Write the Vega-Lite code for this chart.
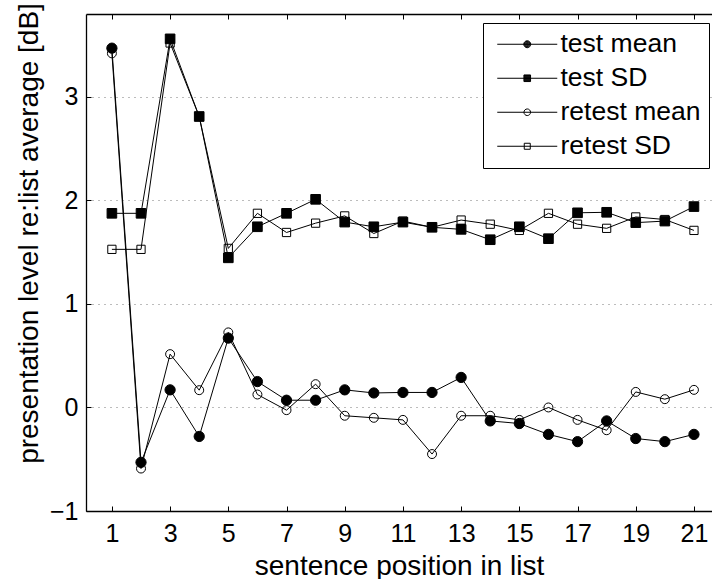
{
  "$schema": "https://vega.github.io/schema/vega-lite/v6.json",
  "autosize": "none",
  "width": 626,
  "height": 497,
  "padding": {"left": 86, "top": 14, "right": 0, "bottom": 68},
  "background": "white",
  "config": {
    "font": "Liberation Sans",
    "view": {"stroke": null},
    "axis": {
      "domainColor": "black",
      "domainWidth": 1.3,
      "tickColor": "black",
      "tickWidth": 1,
      "tickSize": -5,
      "labelColor": "black",
      "labelFont": "Liberation Sans",
      "labelFontSize": 25,
      "titleFont": "Liberation Sans",
      "titleFontSize": 28,
      "titleFontWeight": "normal",
      "titleColor": "black"
    },
    "legend": {
      "orient": "none",
      "legendX": 397,
      "legendY": 9,
      "padding": 8,
      "strokeColor": "black",
      "fillColor": "white",
      "cornerRadius": 0,
      "labelFont": "Liberation Sans",
      "labelFontSize": 26.5,
      "labelColor": "black",
      "labelOffset": 20,
      "symbolSize": 144,
      "symbolOffset": 23,
      "symbolOpacity": 1,
      "symbolStrokeColor": "black",
      "symbolFillColor": "transparent",
      "symbolStrokeWidth": 1,
      "rowPadding": 7
    }
  },
  "data": {
    "values": [
      {"pos": 1, "series": "test mean", "value": 3.47},
      {"pos": 2, "series": "test mean", "value": -0.53},
      {"pos": 3, "series": "test mean", "value": 0.17},
      {"pos": 4, "series": "test mean", "value": -0.28},
      {"pos": 5, "series": "test mean", "value": 0.67},
      {"pos": 6, "series": "test mean", "value": 0.25},
      {"pos": 7, "series": "test mean", "value": 0.07},
      {"pos": 8, "series": "test mean", "value": 0.07},
      {"pos": 9, "series": "test mean", "value": 0.17},
      {"pos": 10, "series": "test mean", "value": 0.14},
      {"pos": 11, "series": "test mean", "value": 0.145},
      {"pos": 12, "series": "test mean", "value": 0.145},
      {"pos": 13, "series": "test mean", "value": 0.29},
      {"pos": 14, "series": "test mean", "value": -0.13},
      {"pos": 15, "series": "test mean", "value": -0.155},
      {"pos": 16, "series": "test mean", "value": -0.26},
      {"pos": 17, "series": "test mean", "value": -0.33},
      {"pos": 18, "series": "test mean", "value": -0.13},
      {"pos": 19, "series": "test mean", "value": -0.3},
      {"pos": 20, "series": "test mean", "value": -0.33},
      {"pos": 21, "series": "test mean", "value": -0.26},
      {"pos": 1, "series": "test SD", "value": 1.875},
      {"pos": 2, "series": "test SD", "value": 1.875},
      {"pos": 3, "series": "test SD", "value": 3.56},
      {"pos": 4, "series": "test SD", "value": 2.81},
      {"pos": 5, "series": "test SD", "value": 1.445},
      {"pos": 6, "series": "test SD", "value": 1.745},
      {"pos": 7, "series": "test SD", "value": 1.875},
      {"pos": 8, "series": "test SD", "value": 2.01},
      {"pos": 9, "series": "test SD", "value": 1.79},
      {"pos": 10, "series": "test SD", "value": 1.745},
      {"pos": 11, "series": "test SD", "value": 1.79},
      {"pos": 12, "series": "test SD", "value": 1.74},
      {"pos": 13, "series": "test SD", "value": 1.72},
      {"pos": 14, "series": "test SD", "value": 1.62},
      {"pos": 15, "series": "test SD", "value": 1.745},
      {"pos": 16, "series": "test SD", "value": 1.63},
      {"pos": 17, "series": "test SD", "value": 1.88},
      {"pos": 18, "series": "test SD", "value": 1.885},
      {"pos": 19, "series": "test SD", "value": 1.785},
      {"pos": 20, "series": "test SD", "value": 1.8},
      {"pos": 21, "series": "test SD", "value": 1.94},
      {"pos": 1, "series": "retest mean", "value": 3.42},
      {"pos": 2, "series": "retest mean", "value": -0.59},
      {"pos": 3, "series": "retest mean", "value": 0.515},
      {"pos": 4, "series": "retest mean", "value": 0.167},
      {"pos": 5, "series": "retest mean", "value": 0.725},
      {"pos": 6, "series": "retest mean", "value": 0.125},
      {"pos": 7, "series": "retest mean", "value": -0.026},
      {"pos": 8, "series": "retest mean", "value": 0.225},
      {"pos": 9, "series": "retest mean", "value": -0.08},
      {"pos": 10, "series": "retest mean", "value": -0.1},
      {"pos": 11, "series": "retest mean", "value": -0.12},
      {"pos": 12, "series": "retest mean", "value": -0.45},
      {"pos": 13, "series": "retest mean", "value": -0.08},
      {"pos": 14, "series": "retest mean", "value": -0.08},
      {"pos": 15, "series": "retest mean", "value": -0.12},
      {"pos": 16, "series": "retest mean", "value": 0.0},
      {"pos": 17, "series": "retest mean", "value": -0.12},
      {"pos": 18, "series": "retest mean", "value": -0.22},
      {"pos": 19, "series": "retest mean", "value": 0.15},
      {"pos": 20, "series": "retest mean", "value": 0.08},
      {"pos": 21, "series": "retest mean", "value": 0.17},
      {"pos": 1, "series": "retest SD", "value": 1.527},
      {"pos": 2, "series": "retest SD", "value": 1.527},
      {"pos": 3, "series": "retest SD", "value": 3.52},
      {"pos": 4, "series": "retest SD", "value": 2.81},
      {"pos": 5, "series": "retest SD", "value": 1.536},
      {"pos": 6, "series": "retest SD", "value": 1.875},
      {"pos": 7, "series": "retest SD", "value": 1.69},
      {"pos": 8, "series": "retest SD", "value": 1.78},
      {"pos": 9, "series": "retest SD", "value": 1.85},
      {"pos": 10, "series": "retest SD", "value": 1.68},
      {"pos": 11, "series": "retest SD", "value": 1.8},
      {"pos": 12, "series": "retest SD", "value": 1.74},
      {"pos": 13, "series": "retest SD", "value": 1.81},
      {"pos": 14, "series": "retest SD", "value": 1.77},
      {"pos": 15, "series": "retest SD", "value": 1.71},
      {"pos": 16, "series": "retest SD", "value": 1.875},
      {"pos": 17, "series": "retest SD", "value": 1.77},
      {"pos": 18, "series": "retest SD", "value": 1.73},
      {"pos": 19, "series": "retest SD", "value": 1.84},
      {"pos": 20, "series": "retest SD", "value": 1.815},
      {"pos": 21, "series": "retest SD", "value": 1.71}
    ]
  },
  "layer": [
    {
      "mark": {"type": "line", "color": "black", "strokeWidth": 1},
      "encoding": {
        "x": {
          "field": "pos",
          "type": "quantitative",
          "scale": {"domain": [0.11, 21.62], "nice": false, "zero": false},
          "axis": {
            "orient": "bottom",
            "title": "sentence position in list",
            "values": [1, 3, 5, 7, 9, 11, 13, 15, 17, 19, 21],
            "grid": false,
            "labelPadding": 15,
            "titlePadding": 6
          }
        },
        "y": {
          "field": "value",
          "type": "quantitative",
          "scale": {"domain": [-1, 3.8], "nice": false, "zero": false},
          "axis": {
            "title": "presentation level re:list average [dB]",
            "values": [-1, 0, 1, 2, 3],
            "grid": true,
            "gridColor": "#555555",
            "gridWidth": 0.8,
            "gridDash": [1, 5],
            "labelPadding": 13,
            "titleX": -49,
            "titleY": 219,
            "titleAngle": -90,
            "titleAlign": "center",
            "titleBaseline": "alphabetic"
          }
        },
        "detail": {"field": "series", "type": "nominal"}
      }
    },
    {
      "mark": {"type": "point", "stroke": "black", "strokeWidth": 1, "opacity": 1},
      "encoding": {
        "x": {"field": "pos", "type": "quantitative", "axis": null},
        "y": {"field": "value", "type": "quantitative", "axis": null},
        "shape": {
          "field": "series",
          "type": "nominal",
          "scale": {
            "domain": ["test mean", "test SD", "retest mean", "retest SD"],
            "range": ["circle", "square", "circle", "square"]
          },
          "legend": null
        },
        "fill": {
          "field": "series",
          "type": "nominal",
          "scale": {
            "domain": ["test mean", "test SD", "retest mean", "retest SD"],
            "range": ["black", "black", "transparent", "transparent"]
          },
          "legend": null
        },
        "size": {
          "field": "series",
          "type": "nominal",
          "scale": {
            "domain": ["test mean", "test SD", "retest mean", "retest SD"],
            "range": [105, 68, 100, 64]
          },
          "legend": null
        }
      }
    },
    {
      "transform": [{"filter": "datum.pos > 100"}],
      "mark": {"type": "point", "filled": false, "color": "black", "strokeWidth": 1},
      "encoding": {
        "x": {"field": "pos", "type": "quantitative", "axis": null},
        "y": {"field": "value", "type": "quantitative", "axis": null},
        "shape": {
          "field": "series",
          "type": "nominal",
          "title": null,
          "scale": {
            "domain": ["test mean", "test SD", "retest mean", "retest SD"],
            "range": [
              "M-5,0L5,0M-0.58,0A0.58,0.58,0,1,1,0.58,0A0.58,0.58,0,1,1,-0.58,0M-0.48,0A0.48,0.48,0,1,1,0.48,0A0.48,0.48,0,1,1,-0.48,0M-0.38,0A0.38,0.38,0,1,1,0.38,0A0.38,0.38,0,1,1,-0.38,0M-0.28,0A0.28,0.28,0,1,1,0.28,0A0.28,0.28,0,1,1,-0.28,0M-0.18,0A0.18,0.18,0,1,1,0.18,0A0.18,0.18,0,1,1,-0.18,0M-0.08,0A0.08,0.08,0,1,1,0.08,0A0.08,0.08,0,1,1,-0.08,0",
              "M-5,0L5,0M-0.55,-0.55L0.55,-0.55L0.55,0.55L-0.55,0.55ZM-0.55,-0.45L0.55,-0.45M-0.55,-0.35L0.55,-0.35M-0.55,-0.25L0.55,-0.25M-0.55,-0.15L0.55,-0.15M-0.55,-0.05L0.55,-0.05M-0.55,0.05L0.55,0.05M-0.55,0.15L0.55,0.15M-0.55,0.25L0.55,0.25M-0.55,0.35L0.55,0.35M-0.55,0.45L0.55,0.45",
              "M-5,0L5,0M-0.55,0A0.55,0.55,0,1,1,0.55,0A0.55,0.55,0,1,1,-0.55,0",
              "M-5,0L5,0M-0.5,-0.5L0.5,-0.5L0.5,0.5L-0.5,0.5Z"
            ]
          },
          "legend": {
            "symbolStrokeColor": "black",
            "symbolFillColor": "transparent",
            "symbolStrokeWidth": 1,
            "symbolOpacity": 1
          }
        }
      }
    },
    {
      "mark": {"type": "point", "opacity": 0},
      "encoding": {
        "x": {
          "field": "pos",
          "type": "quantitative",
          "axis": {
            "orient": "top",
            "title": null,
            "labels": false,
            "values": [1, 3, 5, 7, 9, 11, 13, 15, 17, 19, 21],
            "grid": false
          }
        },
        "y": {"field": "value", "type": "quantitative", "axis": null}
      }
    }
  ],
  "resolve": {
    "axis": {"x": "independent", "y": "independent"},
    "scale": {"shape": "independent"}
  }
}
